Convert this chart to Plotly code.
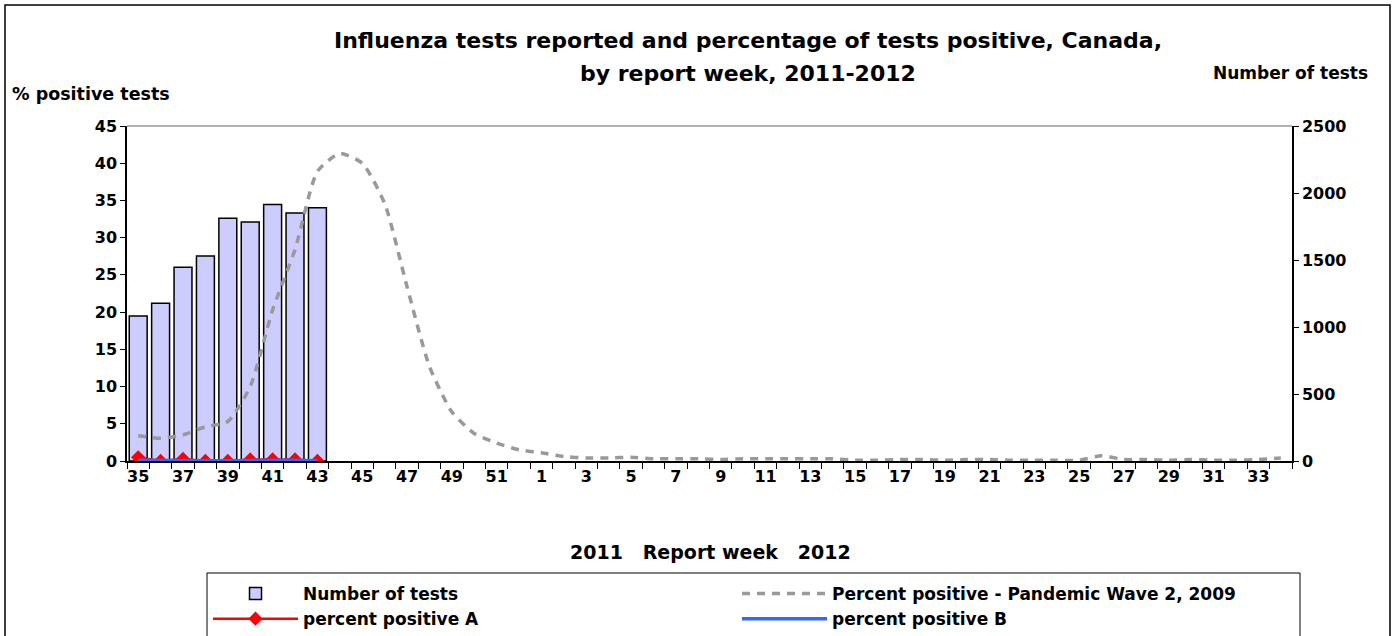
import plotly.graph_objects as go

weeks = [str(w) for w in list(range(35, 53)) + list(range(1, 35))]
tick_labels = [w if i % 2 == 0 else "" for i, w in enumerate(weeks)]

num_tests = [1082, 1177, 1445, 1530, 1811, 1784, 1915, 1851, 1890]
pct_a = [0.5, 0.0, 0.27, 0.0, 0.0, 0.2, 0.2, 0.2, 0.0]
pct_b = [0.1, 0.05, 0.05, 0.05, 0.05, 0.1, 0.1, 0.1, 0.05]
pandemic_2009 = [3.4, 3.05, 3.5, 4.6, 5.3, 10.0, 20.3, 28.4, 38.9, 41.3, 40.0, 34.6,
                 23.4, 12.7, 6.6, 3.7, 2.4, 1.5,
                 1.1, 0.6, 0.4, 0.4, 0.5, 0.3, 0.3, 0.3, 0.2, 0.3, 0.3, 0.3, 0.3, 0.3,
                 0.1, 0.1, 0.2, 0.2, 0.1, 0.2, 0.2, 0.1, 0.1, 0.1, 0.1, 0.7, 0.2, 0.2,
                 0.1, 0.2, 0.1, 0.1, 0.2, 0.4]

idx = list(range(len(weeks)))
FONT = "DejaVu Sans, Liberation Sans, Arial, sans-serif"

fig = go.Figure()
fig.add_trace(go.Bar(
    x=idx[:len(num_tests)], y=num_tests, name="Number of tests",
    marker=dict(color="#CCCCFF", line=dict(color="black", width=1.5)),
    yaxis="y"))
fig.add_trace(go.Scatter(
    x=idx, y=pandemic_2009, name="Percent positive - Pandemic Wave 2, 2009",
    mode="lines", line=dict(color="#999999", width=3.5, dash="8px,7px", shape="spline", smoothing=0.6),
    yaxis="y2"))
fig.add_trace(go.Scatter(
    x=idx[:len(pct_a)], y=pct_a, name="percent positive A",
    mode="lines+markers", line=dict(color="#FF0000", width=2.5),
    marker=dict(symbol="diamond", size=11, color="#FF0000"), yaxis="y2"))
fig.add_trace(go.Scatter(
    x=idx[:len(pct_b)], y=pct_b, name="percent positive B",
    mode="lines", line=dict(color="#3366FF", width=3.5), yaxis="y2"))

L, R, T, B = 127, 1292, 126, 461
W, H = 1394, 636
pw, ph = R - L, B - T

def px_x(x):
    return (x - L) / pw

def px_y(y):
    return (B - y) / ph

tickfont = dict(family=FONT, size=16, color="black", weight="bold")

fig.update_layout(
    width=W, height=H,
    margin=dict(l=L, r=W - R, t=T, b=H - B, pad=0, autoexpand=False),
    paper_bgcolor="white", plot_bgcolor="white",
    font=dict(family=FONT, size=16, color="black"),
    bargap=0.2,
    showlegend=True,
    xaxis=dict(
        range=[-0.5, len(weeks) - 0.5], tickmode="array", tickvals=idx[::2],
        ticktext=tick_labels[::2], ticks="outside", ticklen=0,
        tickfont=tickfont,
        showline=True, linecolor="black", linewidth=1.5, showgrid=False, zeroline=False,
        minor=dict(tickmode="array", tickvals=[i - 0.5 for i in range(len(weeks) + 1)],
                   ticks="outside", ticklen=6, tickcolor="black", tickwidth=1, showgrid=False),
    ),
    yaxis=dict(
        side="right", range=[0, 2500], dtick=500, ticks="outside", ticklen=5,
        tickcolor="black", showline=True, linecolor="black", linewidth=1.5,
        showgrid=False, zeroline=False, tickfont=tickfont,
    ),
    yaxis2=dict(
        side="left", overlaying="y", range=[0, 45], dtick=5, ticks="outside", ticklen=5,
        tickcolor="black", showline=True, linecolor="black", linewidth=1.5,
        showgrid=False, zeroline=False, tickfont=tickfont,
    ),
    legend=dict(
        orientation="h", x=px_x(208), xanchor="left", y=px_y(576), yanchor="top",
        borderwidth=0, bgcolor="rgba(0,0,0,0)",
        entrywidth=429, entrywidthmode="pixels", itemwidth=85,
        font=dict(family=FONT, size=17, color="black", weight="bold"),
        traceorder="normal",
    ),
)

# top border line of plot area
fig.add_shape(type="line", xref="paper", yref="paper", x0=0, x1=1, y0=1, y1=1,
              line=dict(color="#999999", width=1.5))
# outer frame
fig.add_shape(type="rect", xref="paper", yref="paper",
              x0=px_x(5), x1=px_x(1390), y0=px_y(645), y1=px_y(5),
              line=dict(color="black", width=1.5), fillcolor="rgba(0,0,0,0)", layer="below")
# legend frame
fig.add_shape(type="rect", xref="paper", yref="paper",
              x0=px_x(207), x1=px_x(1300), y0=px_y(645), y1=px_y(573),
              line=dict(color="black", width=1), fillcolor="rgba(0,0,0,0)", layer="below")

ann_font = dict(family=FONT, color="black", weight="bold")
fig.add_annotation(text="Influenza tests reported and percentage of tests positive, Canada,",
                   xref="paper", yref="paper", x=px_x(748), y=px_y(40), showarrow=False,
                   xanchor="center", yanchor="middle", font=dict(size=22, **ann_font))
fig.add_annotation(text="by report week, 2011-2012",
                   xref="paper", yref="paper", x=px_x(748), y=px_y(73), showarrow=False,
                   xanchor="center", yanchor="middle", font=dict(size=22, **ann_font))
fig.add_annotation(text="% positive tests", xref="paper", yref="paper",
                   x=px_x(10), y=px_y(94), showarrow=False, xanchor="left", yanchor="middle",
                   font=dict(size=17.5, **ann_font))
fig.add_annotation(text="Number of tests", xref="paper", yref="paper",
                   x=px_x(1370), y=px_y(73), showarrow=False, xanchor="right", yanchor="middle",
                   font=dict(size=17, **ann_font))
fig.add_annotation(text="2011   Report week   2012", xref="paper", yref="paper",
                   x=px_x(710), y=px_y(552), showarrow=False, xanchor="center", yanchor="middle",
                   font=dict(size=19, **ann_font))

fig.write_html("out.html", config={"displayModeBar": False},
               post_script="document.body.style.margin='0px';")
